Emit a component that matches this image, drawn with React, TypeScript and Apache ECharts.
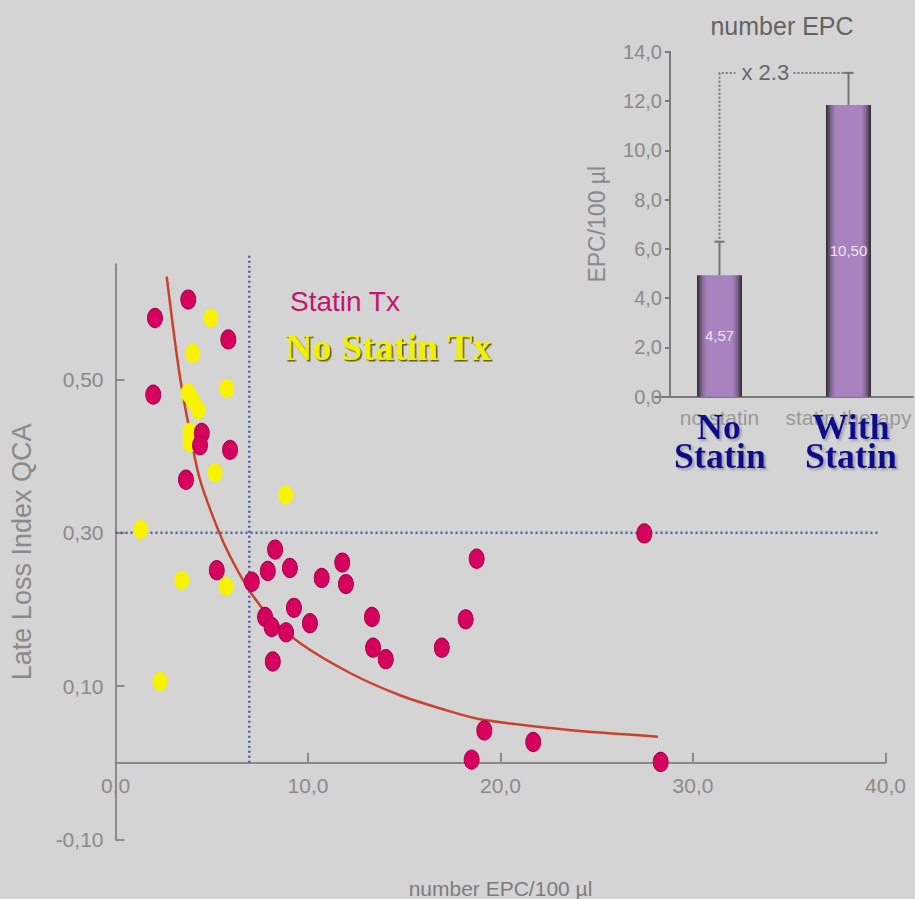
import React, { useEffect, useRef } from 'react';
import * as echarts from 'echarts';

// ---- main scatter data (number EPC/100 µl vs Late Loss Index QCA) ----
const statinTx: [number, number][] = [
  [2.05, 0.58], [3.78, 0.604], [5.86, 0.552], [1.96, 0.48], [4.48, 0.43], [4.39, 0.414],
  [5.95, 0.408], [3.66, 0.369], [8.29, 0.278], [5.26, 0.251], [7.08, 0.236], [7.91, 0.25],
  [9.06, 0.254], [10.71, 0.241], [11.78, 0.261], [11.97, 0.233], [9.27, 0.202], [7.77, 0.19],
  [8.11, 0.177], [8.86, 0.17], [10.1, 0.182], [8.17, 0.132], [13.32, 0.19], [13.38, 0.15],
  [14.04, 0.135], [16.95, 0.15], [18.19, 0.187], [18.76, 0.266], [27.47, 0.299], [19.16, 0.042],
  [18.5, 0.004], [21.7, 0.027], [28.32, 0.001],
];
const noStatinTx: [number, number][] = [
  [4.95, 0.58], [4.01, 0.534], [5.78, 0.488], [3.77, 0.482], [4.03, 0.472], [4.29, 0.46],
  [3.87, 0.431], [3.87, 0.417], [5.17, 0.378], [8.84, 0.349], [1.31, 0.304], [3.44, 0.238],
  [5.74, 0.23], [2.31, 0.106],
];
const fitCurve: [number, number][] = [
  [2.66, 0.634], [3.35, 0.503], [4.04, 0.408], [4.39, 0.369], [5.06, 0.321], [5.78, 0.278],
  [6.82, 0.23], [7.85, 0.195], [9.58, 0.156], [12.18, 0.117], [14.78, 0.088], [17.38, 0.067],
  [19.09, 0.056], [23.44, 0.043], [28.18, 0.034],
];
const refX = 6.95;
const refXTop = 0.662;
const refY = 0.3;
const refYEnd = 39.7;
const yTickValues = [-0.1, 0.1, 0.3, 0.5];

// ---- inset bar chart data ----
const epcCategories = ['no statin', 'statin therapy'];
const epcBars = [4.93, 11.84];
const epcBarLabels = ['4,57', '10,50'];
const epcErrTop = [6.29, 13.14];
const ratioLabel = 'x 2.3';

const SANS = '"Liberation Sans", Arial, sans-serif';
const SERIF = '"Liberation Serif", "Times New Roman", serif';
const comma1 = (v: number) => v.toFixed(1).replace('.', ',');
const comma2 = (v: number) => v.toFixed(2).replace('.', ',');

// main grid geometry: y from -0.1 to 0.65 over 575.1 px -> value 0 sits 76.7 px above the bottom
const MAIN_H = 575.1;
const Y_MIN = -0.1;
const Y_MAX = 0.65;
const zeroOffset = ((0 - Y_MIN) / (Y_MAX - Y_MIN)) * MAIN_H;

export default function App() {
  const ref = useRef<HTMLDivElement>(null);
  useEffect(() => {
    if (!ref.current) return;
    const chart = echarts.init(ref.current, null, { renderer: 'svg' });
    const barGradient = new echarts.graphic.LinearGradient(0, 0, 1, 0, [
      { offset: 0, color: '#2c2c2c' },
      { offset: 0.12, color: '#86699a' },
      { offset: 0.22, color: '#a983bf' },
      { offset: 0.78, color: '#a983bf' },
      { offset: 0.88, color: '#86699a' },
      { offset: 1, color: '#2c2c2c' },
    ]);
    const option: any = {
      animation: false,
      backgroundColor: '#d4d4d4',
      grid: [
        { left: 115.5, top: 264.3, width: 770, height: MAIN_H, outerBoundsMode: 'none', containLabel: false },
        { left: 655, top: 51.7, width: 258, height: 345, outerBoundsMode: 'none', containLabel: false },
      ],
      xAxis: [
        {
          type: 'value', gridIndex: 0, min: 0, max: 40, interval: 10,
          position: 'bottom', offset: -zeroOffset,
          name: 'number EPC/100 µl', nameLocation: 'middle', nameGap: 115,
          nameTextStyle: { fontFamily: SANS, fontSize: 21, color: '#7c7c7c' },
          axisLine: { onZero: false, lineStyle: { color: '#8a8a8a', width: 2 } },
          axisTick: { inside: true, length: 10, lineStyle: { color: '#8a8a8a', width: 2 } },
          axisLabel: { formatter: comma1, fontFamily: SANS, fontSize: 21, color: '#8a8a8a', margin: 12 },
          splitLine: { show: false },
        },
        {
          type: 'category', gridIndex: 1, data: epcCategories,
          axisLine: { lineStyle: { color: '#7a7a7a', width: 2 } },
          axisTick: { show: false },
          axisLabel: { fontFamily: SANS, fontSize: 21, color: '#9a9a9a', margin: 10, interval: 0 },
        },
      ],
      yAxis: [
        {
          type: 'value', gridIndex: 0, min: Y_MIN, max: Y_MAX, interval: 0.2,
          name: 'Late Loss Index QCA', nameLocation: 'middle', nameGap: 80,
          nameTextStyle: { fontFamily: SANS, fontSize: 27, color: '#8a8a8a' },
          axisLine: { show: true, onZero: false, lineStyle: { color: '#8a8a8a', width: 2 } },
          axisTick: { show: true, inside: true, length: 9, customValues: yTickValues, lineStyle: { color: '#8a8a8a', width: 2 } },
          axisLabel: { customValues: yTickValues, formatter: comma2, fontFamily: SANS, fontSize: 21, color: '#8a8a8a', margin: 12 },
          splitLine: { show: false },
        },
        {
          type: 'value', gridIndex: 1, min: 0, max: 14, interval: 2, offset: -15,
          name: 'EPC/100 µl', nameLocation: 'middle', nameGap: 62,
          nameTextStyle: { fontFamily: SANS, fontSize: 23, color: '#8a8a8a' },
          axisLine: { show: true, lineStyle: { color: '#7a7a7a', width: 2 } },
          axisTick: { show: true, length: 5, lineStyle: { color: '#7a7a7a', width: 2 } },
          axisLabel: { formatter: comma1, fontFamily: SANS, fontSize: 20, color: '#8a8a8a', margin: 8 },
          splitLine: { show: false },
        },
      ],
      series: [
        {
          type: 'line', xAxisIndex: 0, yAxisIndex: 0, clip: false, symbol: 'none',
          data: [[refX, 0], [refX, refXTop]],
          lineStyle: { color: '#4a62a6', width: 2.5, type: [2, 3] }, z: 1,
        },
        {
          type: 'line', xAxisIndex: 0, yAxisIndex: 0, clip: false, symbol: 'none',
          data: [[0, refY], [refYEnd, refY]],
          lineStyle: { color: '#4a62a6', width: 2.5, type: [2, 3] }, z: 1,
        },
        {
          type: 'line', xAxisIndex: 0, yAxisIndex: 0, clip: false, symbol: 'none', smooth: 0.3,
          data: fitCurve, lineStyle: { color: '#c8432e', width: 2.5 }, z: 2,
        },
        {
          name: 'No Statin Tx', type: 'scatter', xAxisIndex: 0, yAxisIndex: 0,
          symbol: 'circle', symbolSize: [15, 19], data: noStatinTx,
          itemStyle: { color: '#f7f300', opacity: 1 }, z: 3,
        },
        {
          name: 'Statin Tx', type: 'scatter', xAxisIndex: 0, yAxisIndex: 0,
          symbol: 'circle', symbolSize: [15, 19], data: statinTx,
          itemStyle: { color: '#d6005f', borderColor: '#a8004a', borderWidth: 1, opacity: 1 }, z: 4,
        },
        {
          type: 'bar', xAxisIndex: 1, yAxisIndex: 1, barWidth: 45, data: epcBars,
          itemStyle: { color: barGradient },
          label: {
            show: true, position: 'inside', fontFamily: SANS, fontSize: 15, color: '#f0e2f4',
            formatter: (p: any) => epcBarLabels[p.dataIndex],
          },
        },
        {
          type: 'custom', xAxisIndex: 1, yAxisIndex: 1,
          data: epcBars.map((v, i) => [i, v, epcErrTop[i]]),
          encode: { x: 0, y: [1, 2] },
          renderItem: (_p: any, api: any) => {
            const a = api.coord([api.value(0), api.value(1)]);
            const b = api.coord([api.value(0), api.value(2)]);
            const st = { stroke: '#747474', lineWidth: 2 };
            return {
              type: 'group',
              children: [
                { type: 'line', shape: { x1: a[0], y1: a[1], x2: b[0], y2: b[1] }, style: st },
                { type: 'line', shape: { x1: b[0] - 5, y1: b[1], x2: b[0] + 5, y2: b[1] }, style: st },
              ],
            };
          },
          z: 5,
        },
        {
          type: 'custom', xAxisIndex: 1, yAxisIndex: 1,
          data: [[0, epcErrTop[0], 1, epcErrTop[1]]],
          encode: { x: [0, 2], y: [1, 3] },
          renderItem: (_p: any, api: any) => {
            const a = api.coord([api.value(0), api.value(1)]);
            const t = api.coord([api.value(0), api.value(3)]);
            const b = api.coord([api.value(2), api.value(3)]);
            const st = { stroke: '#7a7a7a', lineWidth: 2, lineDash: [2, 2], fill: null };
            return {
              type: 'group',
              children: [
                { type: 'polyline', shape: { points: [[a[0], a[1] - 3], [t[0], t[1]], [t[0] + 16, t[1]]] }, style: st },
                { type: 'line', shape: { x1: t[0] + 74, y1: t[1], x2: b[0], y2: b[1] }, style: st },
                {
                  type: 'text',
                  style: {
                    text: ratioLabel, x: t[0] + 22, y: t[1], align: 'left', verticalAlign: 'middle',
                    fontFamily: SANS, fontSize: 22, fill: '#686868',
                  },
                },
              ],
            };
          },
          z: 5,
        },
      ],
      graphic: [
        {
          type: 'text', z: 100,
          style: { text: 'number EPC', x: 782, y: 26, align: 'center', verticalAlign: 'middle', fontFamily: SANS, fontSize: 25, fill: '#636363' },
        },
        {
          type: 'text', z: 100,
          style: { text: 'Statin Tx', x: 290, y: 301, align: 'left', verticalAlign: 'middle', fontFamily: SANS, fontSize: 28, fill: '#c4166e' },
        },
        {
          type: 'text', z: 100,
          style: {
            text: 'No Statin Tx', x: 285, y: 347, align: 'left', verticalAlign: 'middle',
            fontFamily: SERIF, fontWeight: 'bold', fontSize: 38, fill: '#f2ef00',
            textShadowColor: '#5c5a10', textShadowOffsetX: 1.5, textShadowOffsetY: 1.5, textShadowBlur: 1,
          },
        },
        ...[
          { t: 'No', x: 719, y: 427 },
          { t: 'Statin', x: 720, y: 456 },
          { t: 'With', x: 851, y: 427 },
          { t: 'Statin', x: 851, y: 456 },
        ].map((d) => ({
          type: 'text', z: 100,
          style: {
            text: d.t, x: d.x, y: d.y, align: 'center', verticalAlign: 'middle',
            fontFamily: SERIF, fontWeight: 'bold', fontSize: 36, fill: '#10108c',
            textShadowColor: 'rgba(150,150,165,0.9)', textShadowOffsetX: 2, textShadowOffsetY: 2, textShadowBlur: 2,
          },
        })),
      ],
    };
    chart.setOption(option);
    return () => chart.dispose();
  }, []);
  return <div ref={ref} style={{ position: 'absolute', left: 0, top: 0, width: 915, height: 899 }} />;
}
